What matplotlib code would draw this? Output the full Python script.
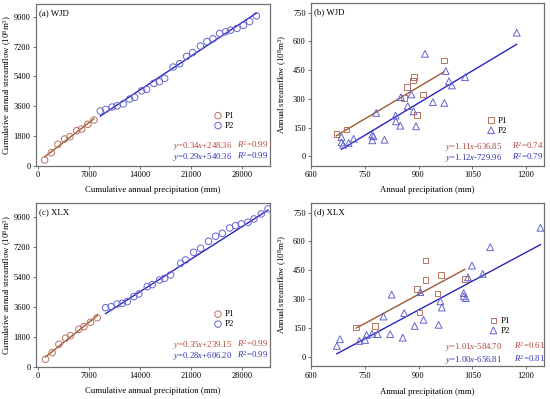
import numpy as np
import matplotlib
matplotlib.use('Agg')
import matplotlib.pyplot as plt

plt.rcParams['font.family'] = ['Liberation Serif', 'DejaVu Serif']
plt.rcParams['mathtext.fontset'] = 'custom'
plt.rcParams['mathtext.rm'] = 'Liberation Serif'
plt.rcParams['mathtext.it'] = 'Liberation Serif:italic'

# ---------------- data ----------------
# (a) WJD cumulative
a_p1_x = [878, 1798, 2704, 3623, 4351, 5270, 5957, 6821, 7645]
a_p1_y = [362, 802, 1308, 1627, 1766, 2128, 2230, 2513, 2772]
a_p2_x = [8523, 9251, 10143, 10829, 11680, 12545, 13231, 14192, 14878, 15866,
          16621, 17349, 18515, 19407, 20368, 21192, 22248, 23154, 23977, 24897,
          25720, 26407, 27272, 28150, 29015, 29935]
a_p2_y = [3315, 3417, 3556, 3628, 3749, 4038, 4141, 4532, 4623, 4984,
          5081, 5286, 5967, 6166, 6612, 6841, 7232, 7504, 7672, 7998,
          8094, 8197, 8299, 8486, 8706, 9053]
# (b) WJD annual
b_p1_x = [671, 699, 859, 868, 884, 887, 913, 895, 971]
b_p1_y = [117, 140, 305, 363, 396, 415, 323, 215, 500]
b_p2_x = [685, 685, 690, 705, 719, 771, 774, 771, 782, 805, 836, 837, 849,
          851, 870, 880, 886, 893, 918, 940, 972, 976, 985, 993, 1030, 1174]
b_p2_y = [101, 73, 61, 70, 92, 113, 105, 84, 227, 87, 213, 183, 160,
          309, 262, 323, 235, 157, 535, 283, 279, 445, 392, 370, 413, 645]
# (c) XLX cumulative
c_p1_x = [1002, 1922, 2841, 3747, 4433, 5586, 6273, 7178, 8098]
c_p1_y = [446, 844, 1350, 1712, 1868, 2254, 2411, 2676, 2953]
c_p2_x = [9241, 10019, 10843, 11529, 12215, 13130, 13816, 14960, 15647, 16654,
          17341, 18164, 19537, 20223, 21321, 22282, 23380, 24341, 25254, 26263,
          27086, 27862, 28777, 29605, 30607, 31526]
c_p2_y = [3556, 3616, 3777, 3817, 3918, 4219, 4380, 4822, 4942, 5222,
          5323, 5525, 6227, 6429, 6891, 7132, 7554, 7855, 8036, 8357,
          8498, 8598, 8699, 8900, 9201, 9502]
# (d) XLX annual
d_p1_x = [726, 779, 895, 903, 920, 920, 953, 962, 1029]
d_p1_y = [152, 160, 352, 230, 501, 398, 328, 424, 405]
d_p2_x = [672, 681, 735, 751, 755, 770, 786, 802, 821, 825, 856, 860, 889,
          905, 914, 956, 961, 965, 1026, 1026, 1032, 1038, 1049, 1079, 1100, 1240]
d_p2_y = [56, 91, 82, 87, 113, 119, 117, 209, 117, 323, 99, 227, 160,
          336, 192, 166, 288, 256, 331, 314, 305, 413, 474, 431, 570, 671]

# regression coefficients (slope, intercept, R2) as printed
fit_a = [(0.34, 248.36, 0.99), (0.29, 540.36, 0.99)]
fit_b = [(1.11, -636.85, 0.74), (1.12, -729.96, 0.79)]
fit_c = [(0.35, 239.15, 0.99), (0.28, 606.20, 0.99)]
fit_d = [(1.01, -584.70, 0.61), (1.00, -656.81, 0.81)]

cum_xticks = [0, 7000, 14000, 21000, 28000]
cum_yticks = [0, 1800, 3600, 5400, 7200, 9000]
ann_xticks = [600, 750, 900, 1050, 1200]
ann_yticks = [0, 150, 300, 450, 600, 750]

# ---------------- styles ----------------
C1_MK = '#b8735f'
C1_LN = '#9a5a35'
C1_TX = '#b5443a'
C2_MK = '#6565cf'
C2_LN = '#2525c0'
C2_TX = '#3030b8'
SPINE = '#707070'
FS = 6.4
TICK_FS = 6.0
EQ_FS = 6.3
LAB_FS = 6.3

W, H = 550, 399
def pos(l, r, t, b):
    return [l / W, 1 - b / H, (r - l) / W, (b - t) / H]

fig = plt.figure(figsize=(5.5, 3.99), dpi=100)
axa = fig.add_axes(pos(36, 270, 4, 166))
axb = fig.add_axes(pos(311, 544, 3, 166))
axc = fig.add_axes(pos(36, 270, 203, 366.7))
axd = fig.add_axes(pos(311, 544, 203, 366.3))

def style(ax):
    for s in ax.spines.values():
        s.set_color(SPINE)
        s.set_linewidth(0.9)
    ax.tick_params(direction='out', length=2.5, width=0.7, color=SPINE,
                   labelsize=TICK_FS, pad=1.3, top=False, right=False)

def eqtext(ax, fits, x1, x2, y1, y2):
    for (s, b, r2), y, c in zip(fits, (y1, y2), (C1_TX, C2_TX)):
        sign = '+' if b >= 0 else '-'
        ax.text(x1, y, f'$y$={s:.2f}$x${sign}{abs(b):.2f}', transform=ax.transAxes,
                color=c, fontsize=EQ_FS, va='baseline', ha='left')
        ax.text(x2, y, f'$R^2$={r2:.2f}', transform=ax.transAxes,
                color=c, fontsize=EQ_FS, va='baseline', ha='left')

def panel(ax, p1x, p1y, p2x, p2y, fits, markers, sizes, label, cum,
          eqpos, legpos, xlab_y, ylab_x):
    style(ax)
    ax.scatter(p1x, p1y, s=sizes[0], marker=markers[0], facecolors='none',
               edgecolors=C1_MK, linewidths=0.7, label='P1', zorder=3)
    ax.scatter(p2x, p2y, s=sizes[1], marker=markers[1], facecolors='none',
               edgecolors=C2_MK, linewidths=0.7, label='P2', zorder=3)
    for (s, b, _), xs, c in zip(fits, (p1x, p2x), (C1_LN, C2_LN)):
        xx = np.array([min(xs), max(xs)], dtype=float)
        ax.plot(xx, s * xx + b, color=c, lw=1.0, zorder=2)
    ax.text(0.012, 0.945, label, transform=ax.transAxes, fontsize=FS,
            va='center', ha='left')
    eqtext(ax, fits, *eqpos)
    ax.legend(loc='upper left', bbox_to_anchor=legpos, frameon=False,
              fontsize=FS, handletextpad=0.2, labelspacing=0.2,
              borderpad=0, borderaxespad=0, handlelength=1.2, markerscale=1.0)
    if cum:
        ax.set_xticks(cum_xticks)
        ax.set_yticks(cum_yticks)
        ax.set_xlabel('Cumulative annual precipitation (mm)', fontsize=LAB_FS)
        ax.set_ylabel('Cumulative annual streamflow (10$^8$m$^3$)', fontsize=LAB_FS)
    else:
        ax.set_xticks(ann_xticks)
        ax.set_yticks(ann_yticks)
        ax.set_xlim(600, 1250)
        ax.set_ylim(-50, 800)
        ax.set_xlabel('Annual precipitation (mm)', fontsize=LAB_FS)
        ax.set_ylabel('Annual streamflow (10$^8$m$^3$)', fontsize=LAB_FS)
    ax.yaxis.set_label_coords(ylab_x, 0.5)
    ax.xaxis.set_label_coords(0.5, xlab_y)

panel(axa, a_p1_x, a_p1_y, a_p2_x, a_p2_y, fit_a, ('o', 'o'), (22, 22), '(a) WJD', True,
      (0.585, 0.858, 0.113, 0.044), (0.755, 0.335), -0.125, -0.095)
axa.set_xlim(-300, 31800)
axa.set_ylim(0, 9770)

panel(axb, b_p1_x, b_p1_y, b_p2_x, b_p2_y, fit_b, ('s', '^'), (16, 24), '(b) WJD', False,
      (0.575, 0.863, 0.106, 0.037), (0.75, 0.305), -0.123, -0.095)

panel(axc, c_p1_x, c_p1_y, c_p2_x, c_p2_y, fit_c, ('o', 'o'), (22, 22), '(c) XLX', True,
      (0.585, 0.858, 0.122, 0.053), (0.755, 0.345), -0.122, -0.095)
axc.set_xlim(-300, 31800)
axc.set_ylim(0, 9860)

panel(axd, d_p1_x, d_p1_y, d_p2_x, d_p2_y, fit_d, ('s', '^'), (16, 24), '(d) XLX', False,
      (0.575, 0.871, 0.104, 0.029), (0.76, 0.305), -0.131, -0.095)

fig.savefig('out.png', dpi=100)
